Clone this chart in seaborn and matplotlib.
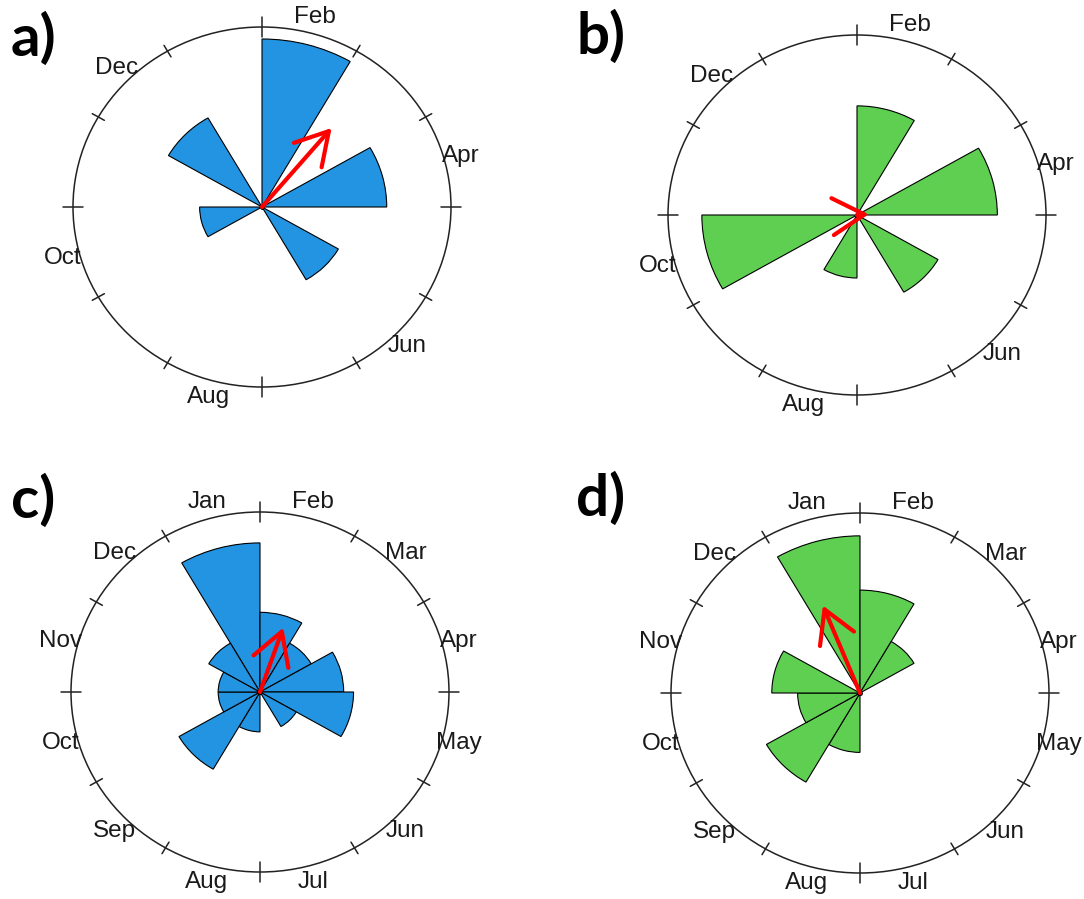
import numpy as np
import matplotlib
matplotlib.use("Agg")
import matplotlib.pyplot as plt
import seaborn as sns
from matplotlib.patches import Wedge, Circle, FancyArrowPatch

sns.set_theme(style="white")
plt.rcParams['font.family'] = ['Liberation Sans', 'DejaVu Sans']

months = ['Jan', 'Feb', 'Mar', 'Apr', 'May', 'Jun',
          'Jul', 'Aug', 'Sep', 'Oct', 'Nov', 'Dec']

# counts per month bin
counts_a = [0, 8, 0, 4, 0, 2, 0, 0, 0, 1, 0, 3]
counts_b = [0, 6, 0, 9, 0, 4, 0, 2, 0, 11, 0, 0]
counts_c = [14, 4, 2, 4, 5, 1, 0, 1, 5, 1, 1, 2]
counts_d = [7, 3, 1, 0, 0, 0, 0, 1, 3, 1, 2, 0]

# mean direction (deg clockwise from top) and mean resultant length
mean_dir = [40, 86, 19, 338]
mean_len = [0.573, 0.062, 0.378, 0.524]

panel_labels = ['a)', 'b)', 'c)', 'd)']
all_months = [False, False, True, True]

blue = '#2294E1'
green = '#5FCF52'
fills = [blue, green, blue, green]

# layout in pixels (figure is 1084 x 899)
W, H = 1084, 899
centers = [(262, 207), (857, 215), (260, 692), (860, 693)]
rx, ry = 189, 180
ext = 1.15
letter_pos = [(11, 56), (576, 54), (11, 518), (576, 516)]

prop = 1.4  # rose.diag style sqrt scaling


def to_xy(r, deg):
    a = np.deg2rad(deg)
    return r * np.sin(a), r * np.cos(a)


def rose(ax, counts, color, direction, rho, full):
    n = sum(counts)
    for i, c in enumerate(counts):
        if c == 0:
            continue
        start = ((i - 1) * 30) % 360
        r = prop * np.sqrt(c / n)
        w = Wedge((0, 0), r, 90 - (start + 30), 90 - start,
                  facecolor=color, edgecolor='black', lw=0.8, zorder=2)
        ax.add_patch(w)

    ax.add_patch(Circle((0, 0), 1, fill=False, edgecolor='#222222', lw=1.1, zorder=1))

    for k in range(12):
        t = 0.053 if k % 3 == 0 else 0.037
        x0, y0 = to_xy(1 - t, k * 30)
        x1, y1 = to_xy(1 + t, k * 30)
        ax.plot([x0, x1], [y0, y1], color='#222222', lw=1.1, zorder=1)

    for i, m in enumerate(months):
        if not full and i % 2 == 0:
            continue
        ang = ((i - 1) * 30) % 360 + 15
        x, y = to_xy(1.09, ang)
        ax.text(x, y, m, ha='center', va='center', fontsize=17.5,
                color='#1a1a1a', clip_on=False)

    ex, ey = to_xy(rho, direction)
    arr = FancyArrowPatch((0, 0), (ex, ey),
                          arrowstyle='->,head_length=23,head_width=13.3',
                          mutation_scale=1, color='#ff0000', lw=3.0,
                          shrinkA=0, shrinkB=0, capstyle='round',
                          joinstyle='round', zorder=4)
    ax.add_patch(arr)
    ax.plot(0, 0, 'o', color='black', ms=2.5, zorder=3)

    ax.set_xlim(-ext, ext)
    ax.set_ylim(-ext, ext)
    ax.set_aspect('auto')
    ax.set_axis_off()


fig = plt.figure(figsize=(W / 100, H / 100), dpi=100)
all_counts = [counts_a, counts_b, counts_c, counts_d]

for p in range(4):
    cx, cy = centers[p]
    rect = [(cx - ext * rx) / W, 1 - (cy + ext * ry) / H,
            2 * ext * rx / W, 2 * ext * ry / H]
    ax = fig.add_axes(rect)
    rose(ax, all_counts[p], fills[p], mean_dir[p], mean_len[p], all_months[p])
    lx, ly = letter_pos[p]
    fig.text(lx / W, 1 - ly / H, panel_labels[p], fontsize=42,
             fontweight='bold', family=['Lato', 'DejaVu Sans'],
             ha='left', va='baseline', color='black')

fig.savefig('out.png', dpi=100)
